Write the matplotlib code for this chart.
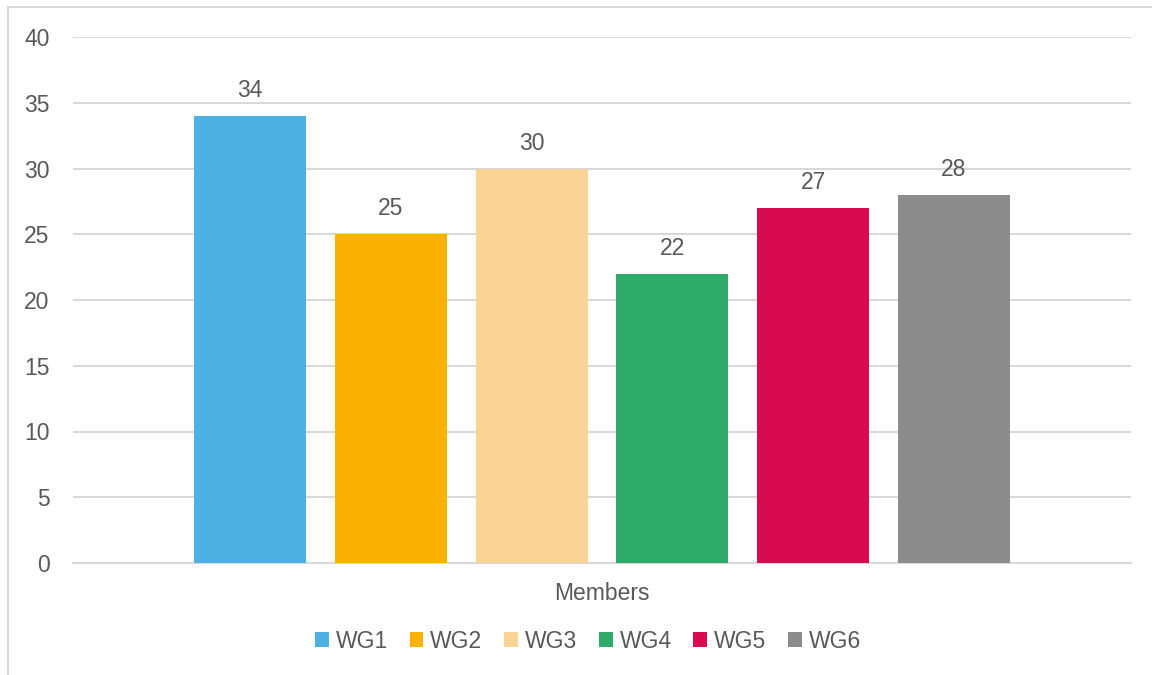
import matplotlib.pyplot as plt
from matplotlib.patches import Rectangle
import numpy as np

plt.rcParams['font.family'] = ['Liberation Sans', 'DejaVu Sans']

series = ['WG1', 'WG2', 'WG3', 'WG4', 'WG5', 'WG6']
members = [34, 25, 30, 22, 27, 28]
colors = ['#4eb1e3', '#f9b200', '#f9d494', '#2eab69', '#d80b50', '#8c8c8c']
category = 'Members'

text_col = '#595959'
grid_col = '#d9d9d9'
fs = 16.5

fig = plt.figure(figsize=(11.52, 6.75), dpi=100)
ax = fig.add_axes([73 / 1152, 1 - 563 / 675, 1058 / 1152, 526 / 675])

# chart area border (only top and left visible in the crop)
fig.patches.append(Rectangle((8 / 1152, -0.05), 1.1, 1 - 7 / 675 + 0.05,
                             transform=fig.transFigure, fill=False,
                             edgecolor=grid_col, linewidth=1.5))

n = len(series)
offsets = np.arange(n) - (n - 1) / 2
for off, val, col, name in zip(offsets, members, colors, series):
    b = ax.bar(off, val, width=0.797, color=col, label=name, zorder=3)
    ax.bar_label(b, padding=10, fontsize=fs, color=text_col)

ax.set_xlim(-3.76, 3.76)
ax.set_ylim(0, 40)
ax.set_yticks(range(0, 41, 5))
ax.set_xticks([0])
ax.set_xticklabels([category])
ax.tick_params(axis='x', length=0, pad=14, labelsize=fs, labelcolor=text_col)
ax.tick_params(axis='y', length=0, pad=17, labelsize=fs, labelcolor=text_col)
ax.grid(axis='y', color=grid_col, linewidth=1.5, zorder=0)
for s in ['top', 'right', 'left']:
    ax.spines[s].set_visible(False)
ax.spines['bottom'].set_color(grid_col)
ax.spines['bottom'].set_linewidth(1.5)

leg = fig.legend(loc='center', bbox_to_anchor=(588 / 1152, 1 - 641 / 675), ncol=n,
                 frameon=False, fontsize=fs, handlelength=0.6, handleheight=0.6,
                 handletextpad=0.3, columnspacing=0.95)
for t in leg.get_texts():
    t.set_color(text_col)

fig.savefig('out.png', dpi=100, facecolor='white')
